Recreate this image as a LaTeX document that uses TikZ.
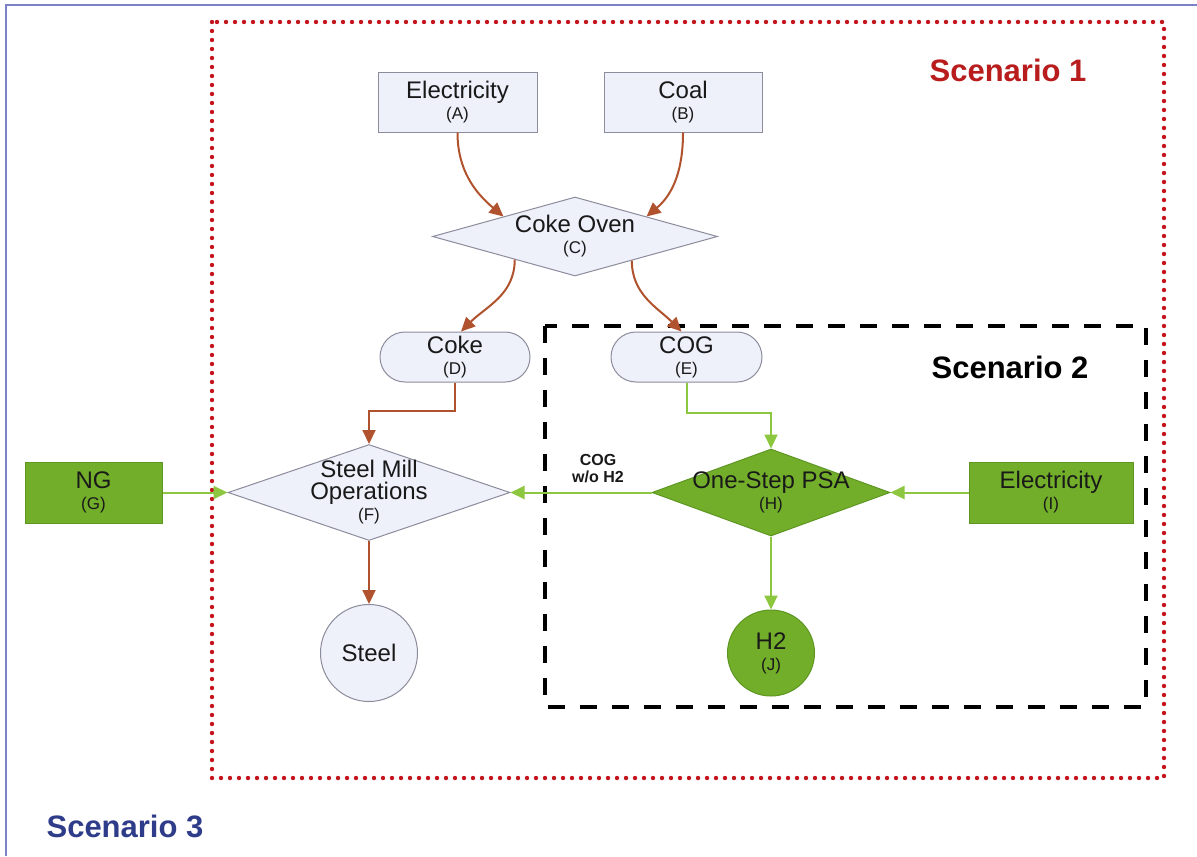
\documentclass[tikz,border=0pt]{standalone}
\usepackage{fontspec}
\setmainfont{Liberation Sans}
\usetikzlibrary{arrows.meta,shapes.geometric,calc}

\definecolor{boxfill}{HTML}{EEF0FA}
\definecolor{boxline}{HTML}{8C8C9C}
\definecolor{greenfill}{HTML}{72AE2A}
\definecolor{greenline}{HTML}{5E9622}
\definecolor{greenarrow}{HTML}{8DC63F}
\definecolor{brownarrow}{HTML}{B0522E}
\definecolor{dotred}{HTML}{C4141E}
\definecolor{scenred}{HTML}{B81C1C}
\definecolor{scenblue}{HTML}{2F3C8A}
\definecolor{framecol}{HTML}{7C82C8}

\newcommand\mainsz{\fontsize{12}{13}\selectfont}
\newcommand\tagsz{\fontsize{8.5}{10}\selectfont}
\newcommand\scensz{\fontsize{15.5}{18}\selectfont\bfseries}
\newcommand\tagline[1]{\\[-2.5pt]{\tagsz(#1)}}

\tikzset{
  plainbox/.style={draw=boxline, fill=boxfill, line width=0.5pt, inner sep=0pt,
    align=center, font=\mainsz, text=black!90},
  greenbox/.style={draw=greenline, fill=greenfill, line width=0.5pt, inner sep=0pt,
    align=center, font=\mainsz, text=black!90},
  decision/.style={diamond, inner sep=0pt},
  brownflow/.style={draw=brownarrow, line width=1pt, -{Triangle[length=7pt,width=6.5pt]}},
  greenflow/.style={draw=greenarrow, line width=1pt, -{Triangle[length=7pt,width=6.5pt]}},
  scenario1/.style={draw=dotred, line width=2.2pt, line cap=round, dash pattern=on 0pt off 4.5pt},
  scenario2/.style={draw=black, line width=2pt, dash pattern=on 8.5pt off 7.5pt},
}

\begin{document}
\begin{tikzpicture}[x=0.5pt,y=0.5pt]
\useasboundingbox (0,0) rectangle (1197,-856);
\fill[white] (0,0) rectangle (1197,-856);

% outer frame of scenario 3
\draw[framecol, line width=1.4pt] (6,-856) -- (6,-5) -- (1197,-5);

% scenario boundaries
\draw[scenario1] (212,-22) rectangle (1164,-778);
\draw[scenario2] (545,-326) rectangle (1146,-707);

% scenario titles
\node[font=\scensz, text=scenred] (s1) at (1008,-70) {Scenario 1};
\node[font=\scensz, text=black] (s2) at (1010,-367) {Scenario 2};
\node[font=\scensz, text=scenblue] (s3) at (125,-826) {Scenario 3};

% inputs
\node[plainbox, minimum width=79.5pt, minimum height=29.5pt] (A) at (457.5,-102.5) {Electricity\tagline{A}};
\node[plainbox, minimum width=79pt, minimum height=29.5pt] (B) at (683,-102.5) {Coal\tagline{B}};

% coke oven
\node[decision, draw=boxline, fill=boxfill, line width=0.5pt, minimum width=142.5pt, minimum height=39.5pt] (C) at (575,-236.5) {};
\node[align=center, font=\mainsz, text=black!90] (Ct) at (C.center) {Coke Oven\tagline{C}};

% products of the oven
\node[plainbox, rounded corners=12.5pt, minimum width=75pt, minimum height=25pt] (D) at (455,-357) {Coke\tagline{D}};
\node[plainbox, rounded corners=12.5pt, minimum width=75.5pt, minimum height=25pt] (E) at (686.5,-357) {COG\tagline{E}};

% steel mill
\node[decision, draw=boxline, fill=boxfill, line width=0.5pt, minimum width=141pt, minimum height=48pt] (F) at (369,-492.5) {};
\node[align=center, font=\mainsz, text=black!90] (Ft) at (F.center) {Steel Mill\\[-2pt]Operations\tagline{F}};
\node[plainbox, circle, minimum size=48.5pt] (S) at (369,-653) {Steel};

% natural gas
\node[greenbox, minimum width=68.5pt, minimum height=30.5pt] (G) at (93.5,-492.5) {NG\tagline{G}};

% PSA unit
\node[decision, draw=greenline, fill=greenfill, line width=0.5pt, minimum width=119pt, minimum height=43.5pt] (H) at (771,-492.5) {};
\node[align=center, font=\mainsz, text=black!90] (Ht) at (H.center) {One-Step PSA\tagline{H}};
\node[greenbox, minimum width=82pt, minimum height=30.5pt] (I) at (1051,-492.5) {Electricity\tagline{I}};
\node[greenbox, ellipse, minimum width=43.5pt, minimum height=43pt] (J) at (771,-653) {H2\tagline{J}};

% stream label
\node[align=center, font=\fontsize{8}{8.5}\selectfont\bfseries, text=black!90] (cogl) at (598,-469) {COG\\w/o H2};

% coke-making flows
\draw[brownflow] (A.south) to[out=-90,in=140] (C.north west);
\draw[brownflow] (B.south) to[out=-90,in=40] (C.north east);
\draw[brownflow] (C.-159) to[out=-90,in=45] ($(D.north)+(6,0)$);
\draw[brownflow] (C.-23) to[out=-90,in=135] ($(E.north)+(-5,0)$);
\draw[brownflow] (D.south) -- ++(0,-28) -| (F.north);
\draw[brownflow] (F.south) -- (S.north);

% hydrogen recovery flows
\draw[greenflow] (E.south) -- ++(0,-30) -| (H.north);
\draw[greenflow] (H.west) -- (F.east);
\draw[greenflow] (I.west) -- (H.east);
\draw[greenflow] (G.east) -- (F.west);
\draw[greenflow] (H.south) -- (J.north);
\end{tikzpicture}
\end{document}
